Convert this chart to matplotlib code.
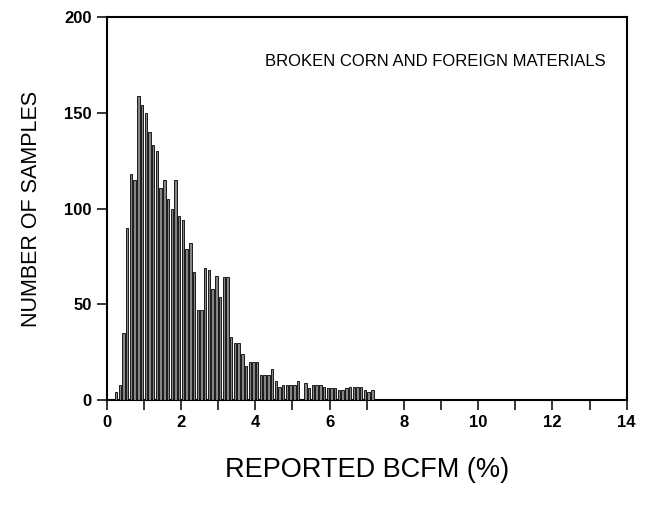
import numpy as np
import matplotlib
matplotlib.use("Agg")
import matplotlib.pyplot as plt
from matplotlib.ticker import MultipleLocator

# -- Histogram data: bin centres (%) and sample counts --
bin_centres = [0.25, 0.35, 0.45, 0.55, 0.65, 0.75, 0.85, 0.95, 1.05, 1.15,
               1.25, 1.35, 1.45, 1.55, 1.65, 1.75, 1.85, 1.95, 2.05, 2.15,
               2.25, 2.35, 2.45, 2.55, 2.65, 2.75, 2.85, 2.95, 3.05, 3.15,
               3.25, 3.35, 3.45, 3.55, 3.65, 3.75, 3.85, 3.95, 4.05, 4.15,
               4.25, 4.35, 4.45, 4.55, 4.65, 4.75, 4.85, 4.95, 5.05, 5.15,
               5.25, 5.35, 5.45, 5.55, 5.65, 5.75, 5.85, 5.95, 6.05, 6.15,
               6.25, 6.35, 6.45, 6.55, 6.65, 6.75, 6.85, 6.95, 7.05, 7.15]
counts = [4, 8, 35, 90, 118, 115, 159, 154, 150, 140,
          133, 130, 111, 115, 105, 100, 115, 96, 94, 79,
          82, 67, 47, 47, 69, 68, 58, 65, 54, 64,
          64, 33, 30, 30, 24, 18, 20, 20, 20, 13,
          13, 13, 16, 10, 7, 8, 8, 8, 8, 10,
          0, 9, 6, 8, 8, 8, 7, 6, 6, 6,
          5, 5, 6, 7, 7, 7, 7, 5, 4, 5]

x_ticks = [0, 2, 4, 6, 8, 10, 12, 14]
y_ticks = [0, 50, 100, 150, 200]

FONT = ["Liberation Sans", "DejaVu Sans"]
plt.rcParams["font.family"] = FONT

fig = plt.figure(figsize=(6.59, 5.05), dpi=100, facecolor="white")
ax = fig.add_axes([0.162, 0.208, 0.789, 0.758])

ax.bar(bin_centres, counts, width=0.065, color="#858585",
       edgecolor="black", linewidth=0.6, zorder=3)

ax.set_xlim(0, 14)
ax.set_ylim(0, 200)
ax.set_xticks(x_ticks)
ax.set_yticks(y_ticks)
ax.xaxis.set_minor_locator(MultipleLocator(1))

for spine in ax.spines.values():
    spine.set_linewidth(1.5)

ax.tick_params(axis="both", which="both", direction="out", width=1.1,
               length=7, labelsize=12, pad=4)
for lbl in ax.get_xticklabels() + ax.get_yticklabels():
    lbl.set_fontweight("bold")

ax.text(0.96, 0.885, "BROKEN CORN AND FOREIGN MATERIALS",
        transform=ax.transAxes, ha="right", va="center", fontsize=12)

ax.set_xlabel("REPORTED BCFM (%)", fontsize=19.5, labelpad=19)
ax.set_ylabel("NUMBER OF SAMPLES", fontsize=15.5, labelpad=16)

fig.savefig("out.png", dpi=100, facecolor="white")
